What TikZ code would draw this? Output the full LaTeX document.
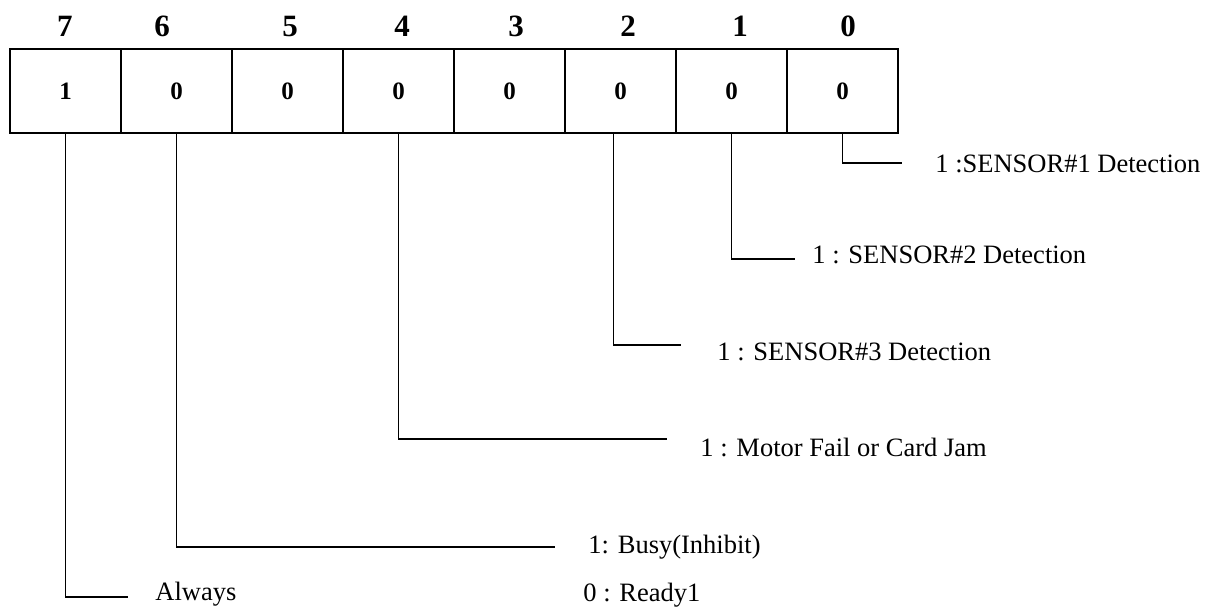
\documentclass[tikz,border=0pt]{standalone}
\usepackage{fontspec}
\setmainfont{Liberation Serif}
\usetikzlibrary{positioning}

\begin{document}
\begin{tikzpicture}[x=0.5pt,y=-0.5pt,
  bitcell/.style={draw,line width=1.1pt,outer sep=0pt,inner sep=0pt,minimum width=55.5pt,minimum height=42pt,font=\bfseries\fontsize{12.5}{14}\selectfont},
  bitnum/.style={anchor=base,inner sep=0pt,font=\bfseries\fontsize{15.5}{17}\selectfont},
  lead/.style={line width=0.9pt},
  desc/.style={anchor=base west,inner sep=0pt,font=\fontsize{13.25}{15}\selectfont}]
  \useasboundingbox (0,0) rectangle (1221,606);
  % register byte, bit 7 first
  \node[bitcell] (c7) at (65.5,91) {1};
  \node[bitcell,right=0pt of c7] (c6) {0};
  \node[bitcell,right=0pt of c6] (c5) {0};
  \node[bitcell,right=0pt of c5] (c4) {0};
  \node[bitcell,right=0pt of c4] (c3) {0};
  \node[bitcell,right=0pt of c3] (c2) {0};
  \node[bitcell,right=0pt of c2] (c1) {0};
  \node[bitcell,right=0pt of c1] (c0) {0};
  \foreach \x/\b in {65/7,162/6,290/5,402/4,516/3,628/2,740/1,848/0}
    \node[bitnum] (h\b) at (\x,36) {\b};
  % leaders to the meaning of each bit
  \coordinate (e0) at (902,163);
  \coordinate (e1) at (795,259);
  \coordinate (e2) at (681,345);
  \coordinate (e4) at (667,439);
  \coordinate (e6) at (555,547);
  \coordinate (e7) at (128,597);
  \draw[lead] (c0.south) |- (e0);
  \draw[lead] (c1.south) |- (e1);
  \draw[lead] ([xshift=-3.5pt]c2.south) |- (e2);
  \draw[lead] (c4.south) |- (e4);
  \draw[lead] (c6.south) |- (e6);
  \draw[lead] (c7.south) |- (e7);
  \node[desc] (d0) at (935,172) {1 :SENSOR\#1 Detection};
  \node[desc] (d1) at (812,263) {1 : SENSOR\#2 Detection};
  \node[desc] (d2) at (717,360) {1 : SENSOR\#3 Detection};
  \node[desc] (d4) at (700,456) {1 : Motor Fail or Card Jam};
  \node[desc] (d6) at (588,553) {1: Busy(Inhibit)};
  \node[desc] (r6) at (583,601) {0 : Ready1};
  \node[desc] (d7) at (155,600) {Always};
\end{tikzpicture}
\end{document}
